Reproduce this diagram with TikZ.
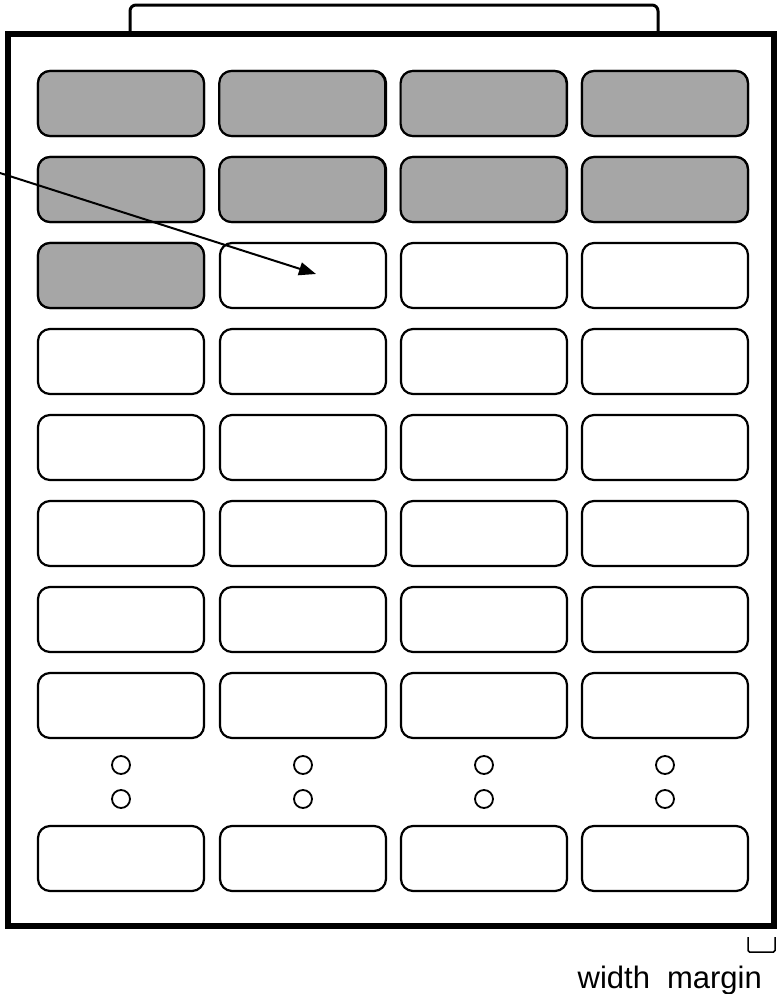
\documentclass[tikz,border=0pt]{standalone}
\usepackage{fontspec}
\setmainfont{Liberation Sans}
\usetikzlibrary{arrows.meta}
\definecolor{boxgray}{HTML}{A6A6A6}
\tikzset{
  cell/.style={draw=black, line width=2.2pt, rounded corners=12pt, minimum width=166pt, minimum height=65pt, inner sep=0pt, fill=white},
  graycell/.style={cell, fill=boxgray},
  dot/.style={circle, draw=black, line width=1.8pt, minimum size=18pt, inner sep=0pt},
  frame/.style={draw=black, line width=5.5pt, minimum width=766pt, minimum height=892pt, inner sep=0pt},
  bracket/.style={draw=black, line width=3pt, rounded corners=6pt},
  pointer/.style={draw=black, line width=2pt, -{Triangle[length=17pt,width=13pt]}},
  label/.style={font=\fontsize{31}{31}\selectfont, inner sep=0pt}
}
\begin{document}
\begin{tikzpicture}[x=1pt,y=-1pt]
\useasboundingbox (0,0) rectangle (779,994);
% top bracket
\coordinate (tl) at (130,33);
\coordinate (tr) at (658,33);
\draw[bracket] (tl) -- (130,5) -- (658,5) -- (tr);
% frame
\node[frame] (frame) at (391,480) {};
% cells
\foreach \c/\x in {1/121,2/303,3/484,4/665}{
  \foreach \r in {1,...,8}{
    \pgfmathsetmacro{\yy}{103.5+86*(\r-1)}
    \node[cell] (b-\r-\c) at (\x,\yy) {};
  }
  \node[cell] (b-9-\c) at (\x,858.5) {};
  \node[dot] (d1-\c) at (\x,765) {};
  \node[dot] (d2-\c) at (\x,799) {};
}
% gray cells
\foreach \r/\c in {1/1,1/2,1/3,1/4,2/1,2/2,2/3,2/4,3/1}{
  \pgfmathsetmacro{\xx}{121+181.3*(\c-1)}
  \pgfmathsetmacro{\yy}{103.5+86*(\r-1)}
  \node[graycell] (g-\r-\c) at (\xx,\yy) {};
}
% pointer
\coordinate (ps) at (0,173);
\coordinate (pt) at (316,274);
\draw[pointer] (ps) -- (pt);
% small bracket
\coordinate (sb1) at (748,937);
\coordinate (sb2) at (775,937);
\draw[black, line width=1.5pt, rounded corners=1.5pt] (sb1) -- (748,952) -- (775,952) -- (sb2);
% label
\node[label, anchor=base east] (lbl) at (762,988) {width\hspace{17pt}margin};
\end{tikzpicture}
\end{document}
